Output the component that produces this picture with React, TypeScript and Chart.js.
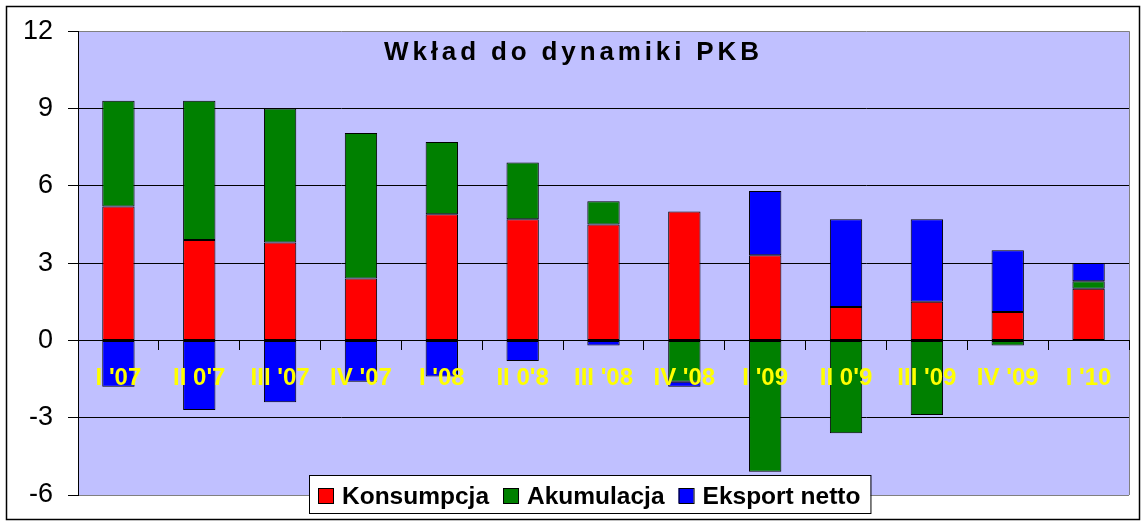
import React, { useEffect, useRef } from 'react';
import { Chart, registerables, type ChartOptions, type Plugin } from 'chart.js';

Chart.register(...registerables);

// Dane z wykresu
const quarters = ["I '07", "II 0'7", "III '07", "IV '07", "I '08", "II 0'8", "III '08", "IV '08", "I '09", "II 0'9", "III '09", "IV '09", "I '10"];
const konsumpcja = [5.2, 3.9, 3.8, 2.4, 4.9, 4.7, 4.5, 5.0, 3.3, 1.3, 1.5, 1.1, 2.0];
const akumulacja = [4.1, 5.4, 5.2, 5.65, 2.8, 2.2, 0.9, -1.6, -5.1, -3.6, -2.9, -0.2, 0.3];
const eksportNetto = [-1.8, -2.7, -2.4, -1.6, -1.4, -0.8, -0.2, -0.2, 2.5, 3.4, 3.2, 2.4, 0.7];
const yTicks = [-6, -3, 0, 3, 6, 9, 12];
const chartTitle = 'Wkład do dynamiki PKB';

const FONT = '"Liberation Sans", Arial, sans-serif';
const PLOT_BG = '#C0C0FF';
const PLOT_EDGE = '#808080';

// Tło, ramka, tytuł i legenda rysowane ręcznie (jak w Excelu - wewnątrz obszaru wykresu)
const excelFrame: Plugin<'bar'> = {
  id: 'excelFrame',
  beforeDraw(chart) {
    const { ctx, chartArea: a, width, height } = chart;
    ctx.save();
    ctx.fillStyle = '#ffffff';
    ctx.fillRect(0, 0, width, height);
    ctx.fillStyle = PLOT_BG;
    ctx.fillRect(a.left, a.top, a.right - a.left, a.bottom - a.top);
    ctx.strokeStyle = PLOT_EDGE;
    ctx.lineWidth = 1;
    ctx.beginPath();
    ctx.moveTo(a.right + 0.5, a.top);
    ctx.lineTo(a.right + 0.5, a.bottom);
    ctx.stroke();
    ctx.strokeStyle = '#000000';
    ctx.lineWidth = 1.5;
    ctx.strokeRect(6.5, 6.5, 1133, 513);
    ctx.restore();
  },
  afterDraw(chart) {
    const { ctx } = chart;
    ctx.save();

    // tytuł
    ctx.font = `bold 26px ${FONT}`;
    ctx.fillStyle = '#000000';
    ctx.textBaseline = 'alphabetic';
    ctx.textAlign = 'left';
    const plain = ctx.measureText(chartTitle).width;
    const spacing = Math.max(0, (375 - plain) / (chartTitle.length - 1));
    (ctx as any).letterSpacing = `${spacing}px`;
    ctx.fillText(chartTitle, 384, 60);
    (ctx as any).letterSpacing = '0px';

    // legenda
    const boxX = 309;
    const boxY = 475;
    const boxH = 38;
    ctx.font = `bold 24.5px ${FONT}`;
    let x = boxX + 9;
    const items = chart.data.datasets.map((ds) => {
      const w = ctx.measureText(String(ds.label)).width;
      const item = { label: String(ds.label), color: ds.backgroundColor as string, x, w };
      x += 15 + 9 + w + 14;
      return item;
    });
    const boxW = x - 14 + 10 - boxX;
    ctx.fillStyle = '#ffffff';
    ctx.fillRect(boxX, boxY, boxW, boxH);
    ctx.strokeStyle = '#000000';
    ctx.lineWidth = 1;
    ctx.strokeRect(boxX + 0.5, boxY + 0.5, boxW, boxH);
    items.forEach((it) => {
      ctx.fillStyle = it.color;
      ctx.fillRect(it.x, boxY + 13, 15, 15);
      ctx.strokeRect(it.x + 0.5, boxY + 13.5, 15, 15);
      ctx.fillStyle = '#000000';
      ctx.fillText(it.label, it.x + 15 + 9, boxY + 29);
    });
    ctx.restore();
  },
};

const buildOptions = (): ChartOptions<'bar'> => ({
  responsive: true,
  maintainAspectRatio: false,
  animation: false,
  layout: { padding: { left: 0, top: 31, right: 19, bottom: 32 } },
  plugins: {
    legend: { display: false },
    title: { display: false },
    tooltip: { enabled: false },
  },
  datasets: {
    bar: {
      categoryPercentage: 1,
      barPercentage: 0.4,
      borderColor: '#000000',
      borderWidth: 1,
      borderSkipped: false,
    },
  },
  scales: {
    x: {
      stacked: true,
      position: { y: 0 },
      grid: {
        drawOnChartArea: false,
        drawTicks: true,
        tickLength: 9,
        tickColor: '#000000',
      },
      border: { display: true, color: '#000000', width: 1 },
      ticks: {
        z: 1, // etykiety nad słupkami
        color: '#FFFF00',
        font: { family: FONT, size: 24, weight: 'bold' },
        padding: 15,
        maxRotation: 0,
        autoSkip: false,
      },
    },
    y: {
      stacked: true,
      min: yTicks[0],
      max: yTicks[yTicks.length - 1],
      afterBuildTicks: (scale) => {
        scale.ticks = yTicks.map((v) => ({ value: v }));
      },
      afterFit: (scale) => {
        scale.width = 78;
      },
      grid: {
        color: (ctx) =>
          ctx.tick && (ctx.tick.value === yTicks[0] || ctx.tick.value === yTicks[yTicks.length - 1])
            ? PLOT_EDGE
            : '#000000',
        tickColor: '#000000',
        tickLength: 10,
        lineWidth: 1,
      },
      border: { display: true, color: '#000000', width: 1 },
      ticks: {
        color: '#000000',
        font: { family: FONT, size: 27 },
        padding: 15,
      },
    },
  },
});

const PkbChart: React.FC = () => {
  const canvasRef = useRef<HTMLCanvasElement>(null);
  const chartRef = useRef<Chart<'bar'> | null>(null);

  useEffect(() => {
    if (!canvasRef.current) return;
    chartRef.current?.destroy();

    chartRef.current = new Chart(canvasRef.current, {
      type: 'bar',
      data: {
        labels: quarters,
        datasets: [
          { label: 'Konsumpcja', data: konsumpcja, backgroundColor: '#FF0000' },
          { label: 'Akumulacja', data: akumulacja, backgroundColor: '#008000' },
          { label: 'Eksport netto', data: eksportNetto, backgroundColor: '#0000FF' },
        ],
      },
      options: buildOptions(),
      plugins: [excelFrame],
    });

    return () => {
      chartRef.current?.destroy();
      chartRef.current = null;
    };
  }, []);

  return (
    <div style={{ position: 'absolute', left: 0, top: 0, width: 1148, height: 527, background: '#fff' }}>
      <canvas ref={canvasRef} />
    </div>
  );
};

export default function App() {
  return <PkbChart />;
}
